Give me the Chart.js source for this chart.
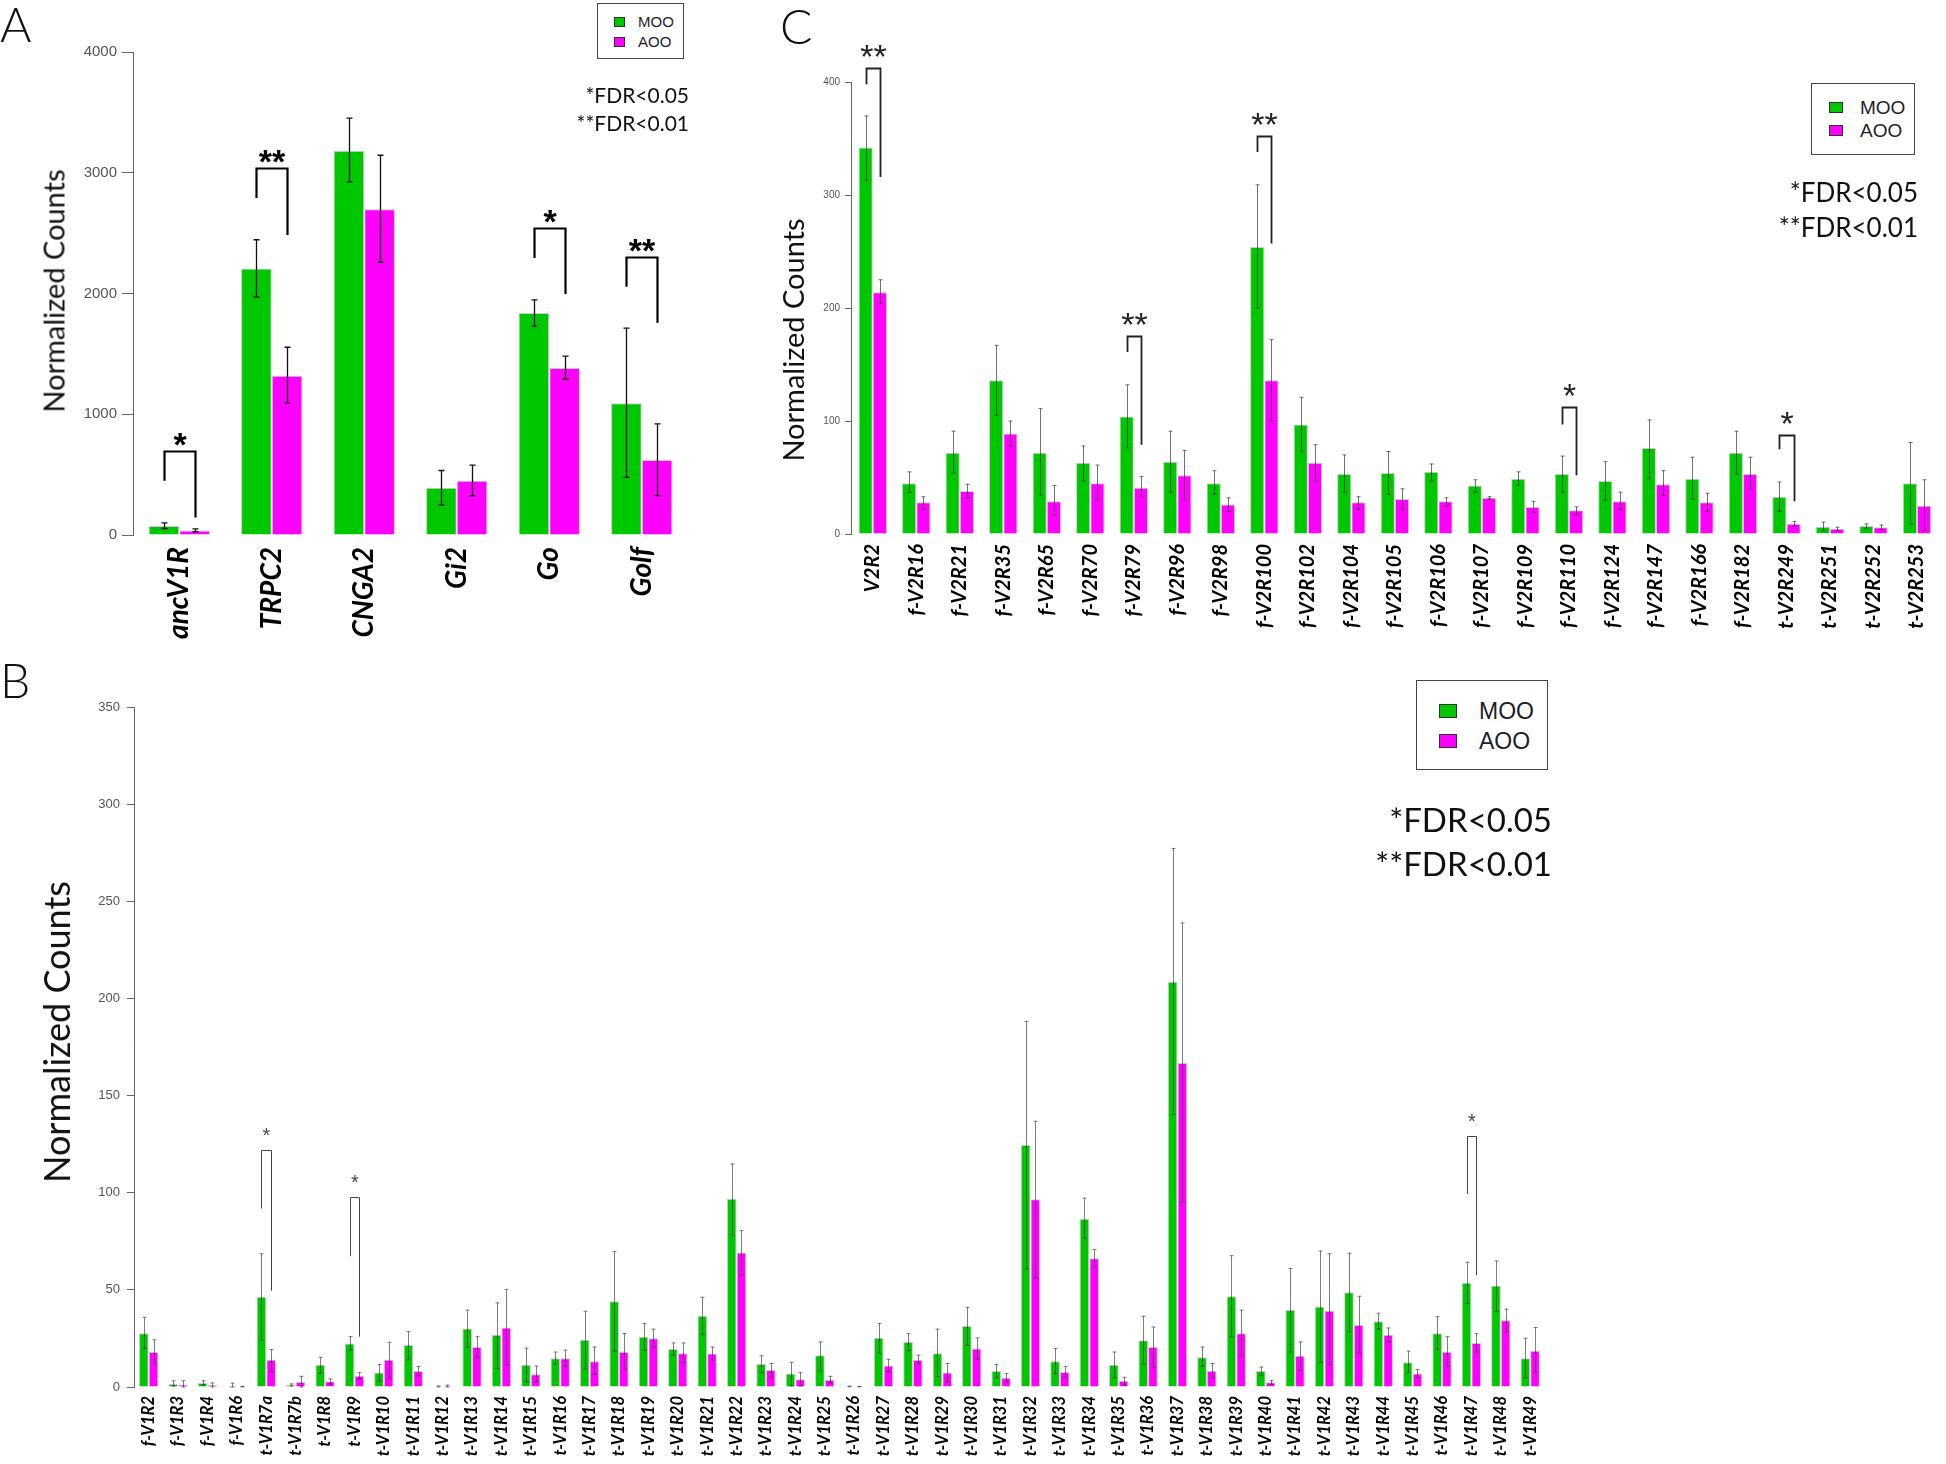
<!DOCTYPE html>
<html>
<head>
<meta charset="utf-8">
<script src="https://cdn.jsdelivr.net/npm/chart.js@4.4.0/dist/chart.umd.min.js"></script>
<style>
  html, body { margin: 0; padding: 0; background: #fff; overflow: hidden; }
  #fig { position: relative; width: 1946px; height: 1464px; overflow: hidden; }
  canvas { position: absolute; }
  .t { position: absolute; white-space: nowrap; color: #111; }
  .panel { font-family: 'Lato', sans-serif; font-weight: 300; font-size: 48px; line-height: 48px; }
  .ytitle { position: absolute; white-space: nowrap; font-family: 'Lato', sans-serif; color: #111;
            transform: translate(-50%, -50%) rotate(-90deg); }
  .fdr { font-family: 'Lato', sans-serif; text-align: right; }
  .legend { position: absolute; border: 1.5px solid #444; background: #fff; box-sizing: border-box; }
  .legend .sw { position: absolute; border: 1.5px solid #333; box-sizing: border-box; }
  .legend .lb { position: absolute; font-family: 'Liberation Sans', Arial, sans-serif; color: #1c1c2a; }
</style>
</head>
<body>
<div id="fig">
  <canvas id="chartA" width="688" height="640" style="left:0;top:0"></canvas>
  <canvas id="chartC" width="1211" height="640" style="left:740px;top:0"></canvas>
  <canvas id="chartB" width="1559" height="814" style="left:0;top:650px"></canvas>

  <div class="t panel" style="left:0;top:0">A</div>
  <div class="t panel" style="left:780px;top:2px">C</div>
  <div class="t panel" style="left:0;top:656px">B</div>

  <div class="ytitle" style="left:53px;top:291px;font-size:29px">Normalized Counts</div>
  <div class="ytitle" style="left:792px;top:340px;font-size:29px">Normalized Counts</div>
  <div class="ytitle" style="left:56px;top:1032px;font-size:36px">Normalized Counts</div>

  <div class="legend" style="left:597px;top:3px;width:87px;height:56px">
    <div class="sw" style="left:16px;top:13px;width:11px;height:10px;background:#00c800"></div>
    <div class="sw" style="left:16px;top:33px;width:11px;height:10px;background:#ff00ff"></div>
    <div class="lb" style="left:40px;top:9px;font-size:15px;line-height:18px">MOO</div>
    <div class="lb" style="left:40px;top:29px;font-size:15px;line-height:18px">AOO</div>
  </div>
  <div class="legend" style="left:1811px;top:83px;width:104px;height:72px">
    <div class="sw" style="left:17px;top:18px;width:14px;height:11px;background:#00c800"></div>
    <div class="sw" style="left:17px;top:41px;width:14px;height:11px;background:#ff00ff"></div>
    <div class="lb" style="left:48px;top:13px;font-size:19px;line-height:22px">MOO</div>
    <div class="lb" style="left:48px;top:36px;font-size:19px;line-height:22px">AOO</div>
  </div>
  <div class="legend" style="left:1416px;top:680px;width:132px;height:90px">
    <div class="sw" style="left:22px;top:23px;width:18px;height:14px;background:#00c800"></div>
    <div class="sw" style="left:22px;top:53px;width:18px;height:14px;background:#ff00ff"></div>
    <div class="lb" style="left:62px;top:17px;font-size:23px;line-height:26px">MOO</div>
    <div class="lb" style="left:62px;top:47px;font-size:23px;line-height:26px">AOO</div>
  </div>

  <div class="t fdr" style="left:539px;width:150px;top:82px;font-size:21px;line-height:26px">*FDR&lt;0.05</div>
  <div class="t fdr" style="left:539px;width:150px;top:110px;font-size:21px;line-height:26px">**FDR&lt;0.01</div>
  <div class="t fdr" style="left:1718px;width:200px;top:176px;font-size:26px;line-height:32px">*FDR&lt;0.05</div>
  <div class="t fdr" style="left:1718px;width:200px;top:211px;font-size:26px;line-height:32px">**FDR&lt;0.01</div>
  <div class="t fdr" style="left:1302px;width:250px;top:800px;font-size:33px;line-height:38px">*FDR&lt;0.05</div>
  <div class="t fdr" style="left:1302px;width:250px;top:844px;font-size:33px;line-height:38px">**FDR&lt;0.01</div>
</div>

<script>
// Panel A: signalling genes
const aLabels = ['ancV1R', 'TRPC2', 'CNGA2', 'Gi2', 'Go', 'Golf'];
const aMoo   = [74, 2208, 3182, 392, 1839, 1092];
const aMooHi = [101, 2445, 3452, 534, 1948, 1714];
const aMooLo = [54, 1971, 2925, 247, 1728, 477];
const aAoo   = [37, 1319, 2698, 450, 1383, 622];
const aAooHi = [50, 1555, 3145, 578, 1481, 920];
const aAooLo = [27, 1092, 2259, 325, 1292, 325];
// brackets: category index, bracket top, left leg end, right leg end (data units)
const aSig = [
  { cat: 0, top: 697, left: 450, right: 145, mark: '*' },
  { cat: 1, top: 3036, left: 2790, right: 2485, mark: '**' },
  { cat: 4, top: 2539, left: 2293, right: 1995, mark: '*' },
  { cat: 5, top: 2303, left: 2056, right: 1758, mark: '**' }
];

// Panel C: V2R genes
const cLabels = ['V2R2', 'f-V2R16', 'f-V2R21', 'f-V2R35', 'f-V2R65', 'f-V2R70', 'f-V2R79', 'f-V2R96',
  'f-V2R98', 'f-V2R100', 'f-V2R102', 'f-V2R104', 'f-V2R105', 'f-V2R106', 'f-V2R107', 'f-V2R109',
  'f-V2R110', 'f-V2R124', 'f-V2R147', 'f-V2R166', 'f-V2R182', 't-V2R249', 't-V2R251', 't-V2R252', 't-V2R253'];
const cMoo   = [342, 45, 72, 136, 72, 63, 104, 64, 45, 254, 97, 53, 54, 55, 43, 49, 53, 47, 76, 49, 72, 33, 6.5, 7, 45];
const cMooHi = [370, 55, 91, 167, 111, 78, 132, 91, 56, 309, 121, 70, 73, 62, 48, 55, 69, 64, 101, 68, 91, 46, 10.5, 9, 81];
const cMooLo = [313, 37, 54, 105, 34, 47, 76, 37, 35, 200, 73, 37, 35, 47, 37, 43, 37, 30, 49, 31, 53, 20, 3, 5, 9];
const cAoo   = [214, 28, 38, 89, 29, 45, 41, 52, 26, 136, 63, 28, 31, 29, 32, 24, 21, 29, 44, 28, 53, 9, 4.7, 6, 25];
const cAooHi = [225, 33, 44, 100, 43, 61, 51, 74, 32, 172, 79, 33, 40, 32, 33, 29, 24, 37, 56, 36, 68, 11, 6, 8, 48];
const cAooLo = [204, 22, 32, 78, 17, 30, 33, 30, 20, 100, 47, 22, 22, 25, 31, 19, 17, 22, 34, 20, 40, 7, 3, 4, 3];
const cSig = [
  { cat: 0, top: 412, left: 398, right: 316, mark: '**' },
  { cat: 6, top: 175, left: 161, right: 79, mark: '**' },
  { cat: 9, top: 352, left: 338, right: 257, mark: '**' },
  { cat: 16, top: 112, left: 97, right: 52, mark: '*' },
  { cat: 21, top: 88, left: 75, right: 29, mark: '*' }
];

// Panel B: V1R genes
const bLabels = ['f-V1R2', 'f-V1R3', 'f-V1R4', 'f-V1R6', 't-V1R7a', 't-V1R7b', 't-V1R8', 't-V1R9', 't-V1R10', 't-V1R11',
  't-V1R12', 't-V1R13', 't-V1R14', 't-V1R15', 't-V1R16', 't-V1R17', 't-V1R18', 't-V1R19', 't-V1R20', 't-V1R21',
  't-V1R22', 't-V1R23', 't-V1R24', 't-V1R25', 't-V1R26', 't-V1R27', 't-V1R28', 't-V1R29', 't-V1R30', 't-V1R31',
  't-V1R32', 't-V1R33', 't-V1R34', 't-V1R35', 't-V1R36', 't-V1R37', 't-V1R38', 't-V1R39', 't-V1R40', 't-V1R41',
  't-V1R42', 't-V1R43', 't-V1R44', 't-V1R45', 't-V1R46', 't-V1R47', 't-V1R48', 't-V1R49'];
const bMoo = [27.7, 1.6, 2.1, 0.5, 46.5, 1.0, 11.4, 22.4, 7.4, 21.6,
  0.3, 30.1, 26.9, 11.4, 14.8, 24.3, 44.1, 25.9, 19.5, 36.7,
  96.9, 11.9, 6.9, 16.4, 0.3, 25.3, 23.2, 17.4, 31.4, 8.2,
  124.6, 13.2, 86.6, 11.4, 24.0, 208.6, 15.3, 46.7, 8.2, 39.6,
  41.4, 48.8, 33.8, 12.7, 27.7, 53.6, 52.3, 14.8];
const bMooHi = [35.9, 3.2, 3.2, 2.0, 68.6, 1.6, 15.3, 25.9, 11.6, 28.5,
  0.6, 39.6, 43.3, 20.0, 18.0, 39.0, 69.7, 32.7, 22.7, 46.2,
  114.8, 16.1, 12.7, 23.2, 0.5, 32.7, 27.5, 29.8, 40.9, 11.6,
  188.2, 19.8, 97.2, 18.0, 36.4, 277.2, 20.6, 67.6, 10.3, 61.0,
  70.0, 68.9, 38.0, 18.5, 36.2, 64.2, 64.9, 25.1];
const bMooLo = [19.8, 0.5, 1.0, 0, 24.3, 0.5, 7.1, 19.0, 2.9, 14.0,
  0, 20.6, 9.5, 2.6, 11.6, 9.2, 18.5, 19.0, 16.4, 26.9,
  77.9, 7.4, 0.5, 8.4, 0.1, 17.4, 18.7, 5.3, 21.4, 4.8,
  60.7, 6.9, 76.6, 4.8, 11.9, 140.2, 10.6, 25.9, 6.1, 18.0,
  12.7, 28.5, 29.8, 7.4, 19.3, 43.0, 39.0, 4.8];
const bAoo = [18.0, 1.3, 1.0, 0.2, 14.0, 2.6, 2.9, 5.8, 14.0, 8.2,
  0.5, 20.6, 30.6, 6.6, 14.8, 13.2, 18.0, 25.1, 17.4, 17.2,
  69.2, 8.7, 4.0, 3.7, 0.2, 11.1, 14.0, 7.4, 19.8, 4.8,
  96.6, 7.7, 66.3, 3.2, 20.6, 166.8, 8.4, 27.7, 2.4, 16.1,
  39.3, 31.9, 26.9, 6.9, 18.2, 22.7, 34.3, 18.7];
const bAooHi = [24.3, 3.2, 2.1, 0.4, 19.3, 5.5, 4.2, 7.4, 23.0, 10.6,
  1.0, 25.9, 50.2, 10.8, 19.0, 20.6, 27.5, 29.8, 22.7, 20.6,
  80.5, 12.1, 7.4, 5.5, 0.3, 14.3, 16.4, 12.1, 25.3, 6.9,
  136.8, 10.6, 70.8, 5.0, 30.9, 238.9, 12.1, 39.6, 3.4, 23.2,
  68.6, 46.7, 30.4, 9.0, 25.9, 27.5, 40.1, 30.6];
const bAooLo = [12.1, 0, 0, 0, 7.9, 0, 1.6, 4.2, 4.8, 5.8,
  0, 15.3, 11.4, 2.6, 10.6, 6.6, 9.2, 20.6, 12.7, 13.7,
  57.8, 5.3, 0.5, 2.1, 0.1, 7.9, 11.6, 2.6, 14.5, 2.6,
  56.2, 4.8, 61.8, 1.0, 10.0, 95.0, 4.8, 16.1, 1.3, 8.7,
  11.4, 17.4, 23.2, 4.8, 10.6, 18.0, 28.5, 7.4];
const bSig = [
  { cat: 4, top: 122.2, left: 91.9, right: 49.6, mark: '*' },
  { cat: 7, top: 97.7, left: 67.3, right: 25.9, mark: '*' },
  { cat: 45, top: 129.4, left: 99.3, right: 57.6, mark: '*' }
];

const green = '#00c800';
const magenta = '#ff00ff';

// error bars + significance brackets, placed with the chart's own scales
const extrasPlugin = {
  id: 'extras',
  afterDatasetsDraw(chart, args, o) {
    const ctx = chart.ctx;
    const ys = chart.scales.y;
    const m0 = chart.getDatasetMeta(0);
    const m1 = chart.getDatasetMeta(1);
    ctx.save();
    [[m0, o.mooHi, o.mooLo], [m1, o.aooHi, o.aooLo]].forEach(([meta, hi, lo]) => {
      meta.data.forEach((bar, i) => {
        const x = Math.round(bar.x) + 0.5;
        const y1 = ys.getPixelForValue(hi[i]);
        const y2 = ys.getPixelForValue(lo[i]);
        ctx.strokeStyle = o.errColor;
        ctx.lineWidth = o.errWidth;
        ctx.beginPath();
        ctx.moveTo(x, y1); ctx.lineTo(x, y2);
        ctx.moveTo(x - o.cap, y1); ctx.lineTo(x + o.cap, y1);
        ctx.moveTo(x - o.cap, y2); ctx.lineTo(x + o.cap, y2);
        ctx.stroke();
      });
    });
    o.sig.forEach(s => {
      const xl = Math.round(m0.data[s.cat].x) + 0.5;
      const xr = Math.round(m1.data[s.cat].x) + 0.5;
      const yt = Math.round(ys.getPixelForValue(s.top)) + 0.5;
      ctx.strokeStyle = o.sigColor;
      ctx.lineWidth = o.sigWidth;
      ctx.beginPath();
      ctx.moveTo(xl, ys.getPixelForValue(s.left));
      ctx.lineTo(xl, yt);
      ctx.lineTo(xr, yt);
      ctx.lineTo(xr, ys.getPixelForValue(s.right));
      ctx.stroke();
      ctx.fillStyle = o.sigColor;
      ctx.font = o.starWeight + ' ' + o.starSize + 'px "Liberation Sans", Arial, sans-serif';
      ctx.textAlign = 'center';
      ctx.textBaseline = 'alphabetic';
      ctx.fillText(s.mark, (xl + xr) / 2, yt - o.starGap + 0.57 * o.starSize);
    });
    ctx.restore();
  }
};

function makeChart(id, labels, moo, aoo, extras, cfg) {
  const barStyle = { borderColor: '#d4c8d4', borderWidth: 1, categoryPercentage: cfg.catPct, barPercentage: 1 };
  return new Chart(document.getElementById(id), {
    type: 'bar',
    data: {
      labels: labels,
      datasets: [
        Object.assign({ label: 'MOO', data: moo, backgroundColor: green }, barStyle),
        Object.assign({ label: 'AOO', data: aoo, backgroundColor: magenta }, barStyle)
      ]
    },
    options: {
      responsive: false,
      animation: false,
      layout: { padding: { top: cfg.top, left: 0, right: 0, bottom: 0 } },
      plugins: {
        legend: { display: false },
        tooltip: { enabled: false },
        extras: extras
      },
      scales: {
        x: {
          grid: { display: false, drawTicks: false },
          border: { display: false },
          ticks: { autoSkip: false, minRotation: 90, maxRotation: 90, padding: cfg.xPad, color: '#000', font: cfg.xFont },
          afterFit: s => { s.height = cfg.xH; }
        },
        y: {
          min: 0,
          max: cfg.max,
          grid: { drawOnChartArea: false, drawTicks: true, tickLength: cfg.tl, color: '#666' },
          border: { color: '#666' },
          ticks: { stepSize: cfg.step, padding: cfg.yPad, color: '#555', font: cfg.yFont, callback: v => String(v) },
          afterFit: s => { s.width = cfg.yW; }
        }
      }
    },
    plugins: [extrasPlugin]
  });
}

makeChart('chartA', aLabels, aMoo, aAoo,
  { mooHi: aMooHi, mooLo: aMooLo, aooHi: aAooHi, aooLo: aAooLo, errColor: '#111', errWidth: 1.3, cap: 3,
    sig: aSig, sigColor: '#000', sigWidth: 2.2, starSize: 34, starWeight: 'bold', starGap: 15 },
  { catPct: 0.664, top: 52, xH: 105, xPad: 12, yW: 133, tl: 11, yPad: 5, max: 4000, step: 1000,
    xFont: { family: 'Lato', size: 28, weight: 'bold', style: 'italic' },
    yFont: { family: 'Liberation Sans', size: 15 } });

makeChart('chartC', cLabels, cMoo, cAoo,
  { mooHi: cMooHi, mooLo: cMooLo, aooHi: cAooHi, aooLo: cAooLo, errColor: 'rgba(0,0,0,0.55)', errWidth: 1, cap: 2,
    sig: cSig, sigColor: '#222', sigWidth: 1.8, starSize: 34, starWeight: 'normal', starGap: 20 },
  { catPct: 0.655, top: 82, xH: 106, xPad: 10, yW: 111, tl: 6, yPad: 5, max: 400, step: 100,
    xFont: { family: 'Lato', size: 20, weight: 'bold', style: 'italic' },
    yFont: { family: 'Liberation Sans', size: 10 } });

makeChart('chartB', bLabels, bMoo, bAoo,
  { mooHi: bMooHi, mooLo: bMooLo, aooHi: bAooHi, aooLo: bAooLo, errColor: 'rgba(0,0,0,0.5)', errWidth: 1, cap: 2,
    sig: bSig, sigColor: '#444', sigWidth: 1, starSize: 20, starWeight: 'normal', starGap: 20 },
  { catPct: 0.66, top: 57, xH: 77, xPad: 9, yW: 134, tl: 7, yPad: 7, max: 350, step: 50,
    xFont: { family: 'Lato', size: 16.5, weight: 'bold', style: 'italic' },
    yFont: { family: 'Liberation Sans', size: 13 } });
</script>
</body>
</html>
